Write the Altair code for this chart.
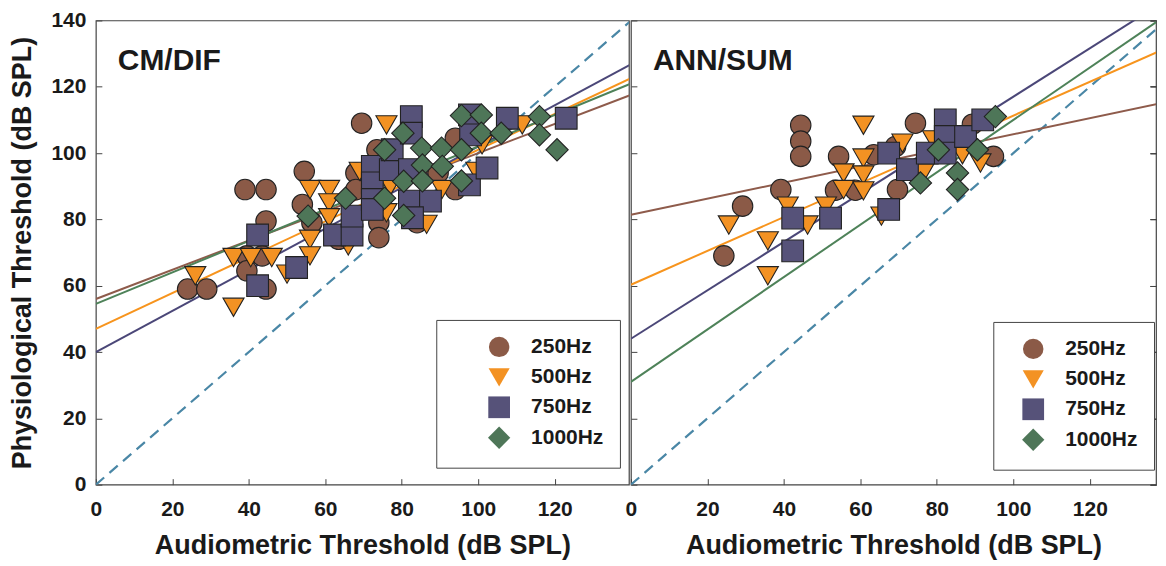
import altair as alt
import pandas as pd

FREQS = ["250Hz", "500Hz", "750Hz", "1000Hz"]
FILL_COLORS = ["#8B5A47", "#F39223", "#565279", "#4E7658"]
LINE_COLORS = ["#8E5B4B", "#F7941D", "#4B4778", "#4E8259"]
SHAPES = ["circle", "triangle-down", "square", "diamond"]
SIZES = [420, 500, 410, 650]
X_TICKS = [0, 20, 40, 60, 80, 100, 120]
Y_TICKS = [0, 20, 40, 60, 80, 100, 120, 140]
FONT = "Liberation Sans"

# ---------------- CM/DIF panel ----------------
cm_250_x = [24, 29, 39, 44.5, 44.5, 39.5, 43.5, 39.5, 44.5, 54.5, 54, 56.5, 63.5, 68, 69.5, 68, 67, 74, 74, 84, 94, 94, 89.5, 73.5]
cm_250_y = [59, 59, 89, 89, 79.5, 69, 69, 64.5, 59, 94.5, 84.5, 79, 74, 94, 109, 89, 80, 79, 74.5, 79, 89, 104.5, 94, 101]

cm_500_x = [26, 36, 36, 40.5, 46, 50, 56, 61, 61, 61, 56, 56, 66, 69, 76, 76, 77, 86.5, 90.5, 99.5, 101, 111.5]
cm_500_y = [63, 53.5, 68.5, 68.5, 68.5, 63.5, 89, 89, 85, 80.5, 74, 69, 72, 94.5, 108.5, 82, 90, 78.5, 89, 94.5, 102.5, 108.5]

cm_750_x = [42.3, 42.3, 52.5, 62.4, 67, 67, 72.3, 72.3, 72.3, 72.3, 77, 77.5, 82, 82.5, 82.5, 82, 87.5, 82.8, 97.7, 98, 97.7, 102.3, 107.6, 123]
cm_750_y = [75.3, 60, 65.5, 75.3, 75.3, 81, 96, 91, 86, 83, 95, 101, 95, 111, 106, 85.5, 85.5, 80.5, 111.5, 105.5, 90.4, 95.5, 110.5, 110.5]

cm_1000_x = [55.5, 65.3, 75.5, 75.5, 80.3, 80.5, 80.5, 85.2, 85.4, 85.4, 90.4, 90.6, 95.6, 95.6, 95.6, 100.8, 100.8, 106, 116, 116, 120.6]
cm_1000_y = [81, 86.4, 101, 86.4, 106, 91.5, 81.2, 101.5, 96.4, 91.6, 101.5, 96, 101, 91.6, 111.3, 111.5, 106, 106, 111, 105.5, 101]

# regression lines: value at x=0 and at x=140
cm_fit_y0 = [56, 47, 40, 54.5]
cm_fit_y140 = [117.6, 122.6, 126.8, 121]

# ---------------- ANN/SUM panel ----------------
an_250_x = [24.3, 29.2, 39.2, 44.4, 44.4, 44.4, 54.3, 53.5, 58.7, 63.5, 69.2, 69.7, 74.4, 89.3, 94.8]
an_250_y = [69, 84, 89, 108.4, 103.6, 99, 99, 88.8, 88.8, 99.5, 102, 89, 109, 108.7, 99]

an_500_x = [25.6, 35.8, 35.8, 41, 46.2, 51, 55.6, 55.6, 60.8, 60.8, 60.8, 60.8, 65.5, 71, 76.5, 79, 86.7, 91.4]
an_500_y = [78.3, 73.5, 63, 84, 78.3, 84, 94, 89, 108.4, 98.5, 93.4, 88.6, 81, 103, 94, 104, 99.5, 97]

an_750_x = [42.3, 42.3, 52.2, 67.4, 67.4, 72.3, 77.5, 82.2, 82.2, 82.2, 87.5, 92]
an_750_y = [80.4, 70.5, 80.4, 100, 83, 95, 100, 110, 105, 100, 105, 110]

an_1000_x = [75.7, 80.4, 85.4, 85.4, 90.6, 95.3]
an_1000_y = [91, 101, 94, 89, 101, 111]

an_fit_y0 = [81.4, 60.3, 44, 31]
an_fit_y140 = [115.4, 131.7, 146.2, 141.6]

UNITY_X = [0, 140]
UNITY_Y = [0, 140]


def points_df(series):
    rows = []
    for freq, xs, ys in series:
        for x, y in zip(xs, ys):
            rows.append({"freq": freq, "aud": x, "phys": y})
    return pd.DataFrame(rows)


def fit_df(y0, y140):
    rows = []
    for f, a, b in zip(FREQS, y0, y140):
        rows.append({"freq": f, "aud": 0, "phys": a})
        rows.append({"freq": f, "aud": 140, "phys": b})
    return pd.DataFrame(rows)


def panel(label, pts, fits, xmax, width, show_y, lx, ly, title_pad):
    xscale = alt.Scale(domain=[0, xmax], nice=False, zero=False)
    yscale = alt.Scale(domain=[0, 140], nice=False)
    xaxis = alt.Axis(values=X_TICKS, title="Audiometric Threshold (dB SPL)", labelFlush=False, format="d")
    if show_y:
        yaxis = alt.Axis(values=Y_TICKS, title="Physiological Threshold (dB SPL)", format="d")
    else:
        yaxis = alt.Axis(values=Y_TICKS, title=None, labels=False)
    X = alt.X("aud:Q", scale=xscale, axis=xaxis)
    Y = alt.Y("phys:Q", scale=yscale, axis=yaxis)

    unity = alt.Chart(pd.DataFrame({"aud": UNITY_X, "phys": UNITY_Y})).mark_line(
        clip=True, color="#4A87A6", strokeWidth=2.2, strokeDash=[11, 7]
    ).encode(x=X, y=Y)

    lines = alt.Chart(fits).mark_line(clip=True, strokeWidth=2).encode(
        x=X, y=Y,
        stroke=alt.Stroke("freq:N", scale=alt.Scale(domain=FREQS, range=LINE_COLORS), legend=None),
        detail="freq:N",
    )

    leg_kw = dict(
        orient="none", legendX=lx, legendY=ly,
        padding=16, symbolOffset=12, labelOffset=20, rowPadding=2, gridAlign="all",
        labelFont=FONT, labelFontSize=21, labelFontWeight="bold", labelColor="#1a1a1a",
        strokeColor="#444", fillColor="white", cornerRadius=0,
        symbolStrokeColor="#222", symbolStrokeWidth=1.1, symbolOpacity=1,
    )
    if title_pad > 0:
        leg = alt.Legend(title=" ", titleOrient="left", titleFont=FONT, titleFontSize=20,
                         titlePadding=title_pad, **leg_kw)
    else:
        leg = alt.Legend(title=None, **leg_kw)

    points = alt.Chart(pts).mark_point(filled=True, opacity=1).encode(
        x=X, y=Y,
        color=alt.Color("freq:N", scale=alt.Scale(domain=FREQS, range=FILL_COLORS), legend=leg, sort=FREQS),
        shape=alt.Shape("freq:N", scale=alt.Scale(domain=FREQS, range=SHAPES), legend=leg, sort=FREQS),
        size=alt.Size("freq:N", scale=alt.Scale(domain=FREQS, range=SIZES), legend=leg, sort=FREQS),
        stroke=alt.value("#222222"),
        strokeWidth=alt.value(1.1),
    )

    text = alt.Chart(pd.DataFrame({"t": [label]})).mark_text(
        align="left", baseline="alphabetic", font=FONT, fontSize=30, fontWeight="bold", color="#1a1a1a"
    ).encode(text="t:N", x=alt.value(22), y=alt.value(50))

    layers = [unity, lines, points, text]
    if not show_y:
        mirror = alt.Chart(pd.DataFrame({"aud": UNITY_X, "phys": UNITY_Y})).mark_line(
            clip=True, opacity=0
        ).encode(
            x=X,
            y=alt.Y("phys:Q", scale=yscale, axis=alt.Axis(values=Y_TICKS, title=None, labels=False, orient="right")),
        )
        return alt.layer(*layers, mirror).resolve_axis(y="independent").properties(width=width, height=465)
    return alt.layer(*layers).properties(width=width, height=465)


left = panel(
    "CM/DIF",
    points_df([("250Hz", cm_250_x, cm_250_y), ("500Hz", cm_500_x, cm_500_y),
               ("750Hz", cm_750_x, cm_750_y), ("1000Hz", cm_1000_x, cm_1000_y)]),
    fit_df(cm_fit_y0, cm_fit_y140), 139.4, 534, True, 341, 300, 23,
)
right = panel(
    "ANN/SUM",
    points_df([("250Hz", an_250_x, an_250_y), ("500Hz", an_500_x, an_500_y),
               ("750Hz", an_750_x, an_750_y), ("1000Hz", an_1000_x, an_1000_y)]),
    fit_df(an_fit_y0, an_fit_y140), 137.3, 526, False, 363, 302, 0,
)

chart = alt.hconcat(left, right, spacing=-6).resolve_scale(
    x="independent", y="independent", color="independent", shape="independent", size="independent"
).properties(
    padding={"left": 0, "top": 0, "right": 0, "bottom": 0}, background="white"
).configure_view(
    stroke="#444", strokeWidth=1.2
).configure_axis(
    labelFont=FONT, labelFontSize=21, labelFontWeight="bold", labelColor="#1a1a1a",
    titleFont=FONT, titleFontSize=27, titleFontWeight="bold", titleColor="#1a1a1a",
    tickColor="#444", tickSize=6, offset=-6, domain=False, grid=False, titlePadding=13,
).configure_axisX(labelPadding=14).configure_axisY(labelPadding=10, titlePadding=14)

chart.save("out.html", embed_options={"renderer": "svg", "actions": False})
